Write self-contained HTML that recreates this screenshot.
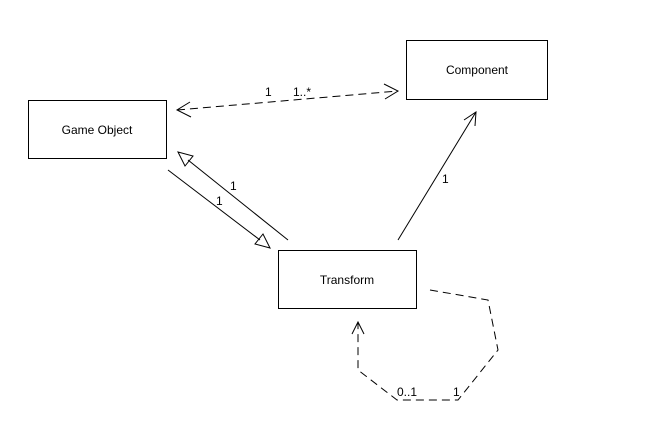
<!DOCTYPE html>
<html><head><style>
body{margin:0;background:#fff;}
svg{display:block;font-family:"Liberation Sans",Arial,sans-serif;}
</style></head><body>
<svg width="668" height="428" viewBox="0 0 668 428">
<rect width="668" height="428" fill="#fff"/>
<g fill="#fff" stroke="#000" stroke-width="1">
<rect x="28.5" y="100.5" width="138" height="58"/>
<rect x="406.5" y="40.5" width="141" height="59"/>
<rect x="278.5" y="250.5" width="138" height="58"/>
</g>
<g font-size="12" fill="#000" text-anchor="middle">
<text x="97" y="134">Game Object</text>
<text x="477" y="74">Component</text>
<text x="347" y="284">Transform</text>
</g>
<g stroke="#000" fill="none" stroke-width="1">
<line x1="177" y1="110" x2="398" y2="91" stroke-dasharray="8,5"/>
<polyline points="190,102 177,110 191,117"/>
<polyline points="384,84 398,91 385,99"/>
<line x1="168" y1="170" x2="260" y2="240"/>
<polygon points="270,248 255,244 263,234"/>
<line x1="288" y1="240" x2="188" y2="160"/>
<polygon points="178,152 193,156 185,166"/>
<line x1="398" y1="240" x2="476" y2="112"/>
<polyline points="464,120 476,112 475,126"/>
<polyline points="430,290 488,300 498,350 458,400 397,400 358,370 358,322" stroke-dasharray="8,5"/>
<polyline points="352,334 358,322 364,334"/>
</g>
<g font-size="12" fill="#000">
<text x="265" y="96">1</text>
<text x="293" y="96">1..*</text>
<text x="230" y="190">1</text>
<text x="216" y="205">1</text>
<text x="442" y="183">1</text>
<text x="397" y="396">0..1</text>
<text x="453" y="396">1</text>
</g>
</svg>
</body></html>
